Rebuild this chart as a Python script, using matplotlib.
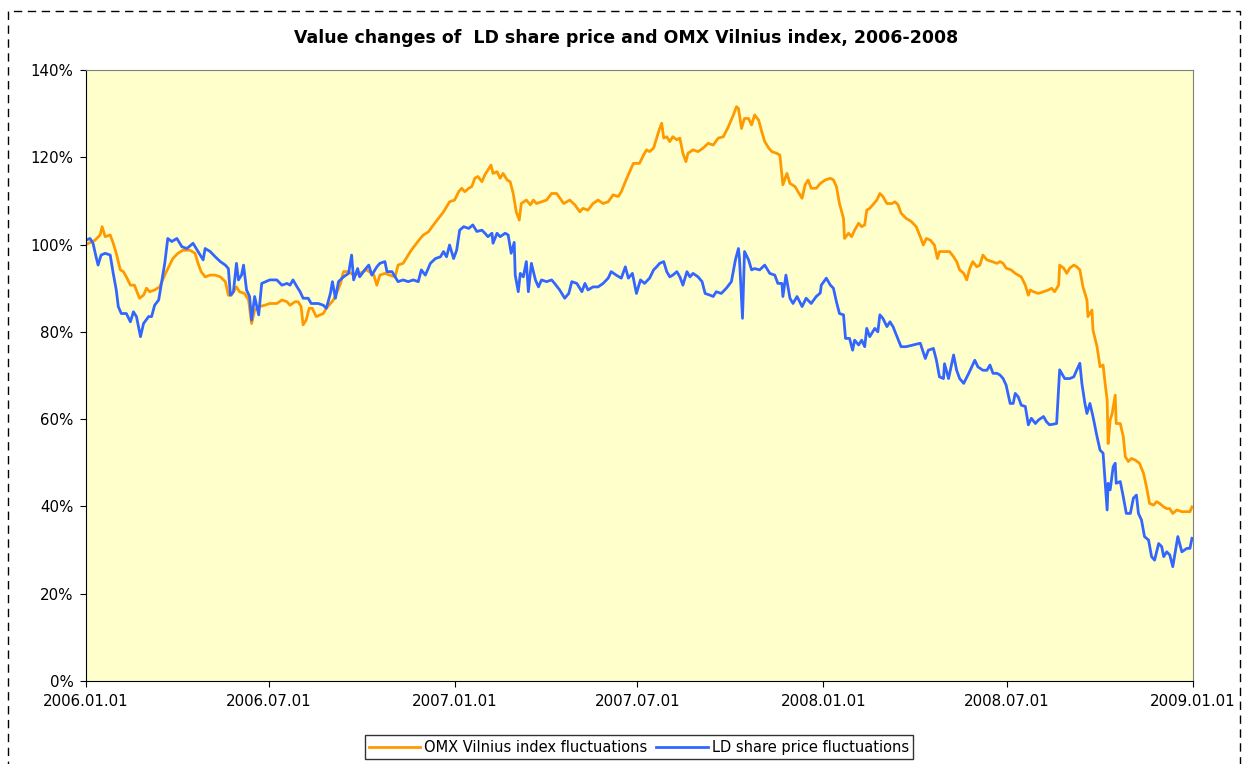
import numpy as np
import matplotlib
matplotlib.use("Agg")
import matplotlib.pyplot as plt
import matplotlib.dates as mdates
from matplotlib.patches import Rectangle

# days counted from 2006-01-01, values in % of the starting level
omx_days = [0, 9, 14, 16, 19, 24, 27, 30, 34, 37, 40, 44, 48, 53, 57, 60, 63, 68, 73, 78,
            82, 86, 91, 96, 103, 108, 111, 114, 118, 123, 128, 133, 138, 141, 144, 149, 152, 157, 161, 164,
            167, 172, 177, 182, 189, 194, 199, 202, 207, 210, 213, 215, 218, 221, 224, 228, 232, 235, 238, 242,
            245, 248, 252, 255, 260, 265, 271, 278, 285, 288, 291, 296, 301, 306, 309, 314, 319, 322, 326, 331,
            334, 339, 344, 349, 354, 360, 365, 369, 372, 375, 379, 382, 385, 388, 392, 395, 398, 401, 403, 407,
            410, 413, 417, 420, 423, 426, 429, 431, 436, 440, 443, 446, 451, 456, 461, 466, 473, 479, 484, 489,
            492, 497, 502, 507, 512, 517, 522, 527, 530, 534, 537, 542, 548, 552, 555, 558, 562, 565, 568, 570,
            572, 575, 578, 581, 585, 588, 591, 594, 596, 601, 606, 611, 616, 621, 626, 631, 636, 641, 644, 646,
            649, 652, 656, 659, 662, 666, 669, 672, 676, 679, 684, 687, 690, 694, 697, 702, 705, 709, 712, 715,
            718, 723, 727, 732, 737, 740, 743, 746, 750, 751, 755, 758, 761, 765, 768, 771, 773, 776, 779, 783,
            786, 789, 793, 798, 801, 804, 807, 812, 817, 822, 826, 829, 832, 836, 840, 843, 845, 850, 855, 859,
            862, 865, 869, 872, 875, 878, 882, 885, 888, 892, 897, 902, 905, 908, 911, 916, 920, 923, 926, 930,
            933, 935, 938, 943, 948, 953, 956, 959, 963, 964, 968, 971, 974, 978, 981, 984, 987, 991, 992, 996,
            997, 1001, 1004, 1007, 1009, 1011, 1012, 1014, 1016, 1019, 1020, 1024, 1027, 1029, 1032, 1035, 1039, 1043, 1047, 1050,
            1053, 1057, 1060, 1063, 1067, 1070, 1073, 1076, 1080, 1085, 1090, 1093, 1095]
omx_values = [100.0, 101.0, 102.2, 104.1, 101.8, 102.2, 100.3, 98.0, 94.2, 93.8, 92.6, 90.7, 90.7, 87.7, 88.4, 90.0, 89.2, 89.6, 90.3, 93.0,
              94.9, 96.8, 98.0, 98.7, 98.7, 98.0, 95.7, 93.8, 92.6, 93.0, 93.0, 92.6, 91.5, 88.4, 88.4, 90.3, 89.2, 88.8, 87.3, 81.9,
              85.0, 85.8, 86.1, 86.5, 86.5, 87.3, 86.9, 86.1, 86.9, 86.9, 85.8, 81.6, 82.7, 85.4, 85.4, 83.5, 83.9, 84.2, 85.4, 86.5,
              87.3, 88.8, 91.1, 93.8, 93.8, 93.0, 93.4, 94.2, 93.0, 90.7, 93.0, 93.4, 93.0, 92.6, 95.3, 95.7, 97.6, 98.7, 99.9, 101.4,
              102.2, 102.9, 104.5, 106.0, 107.5, 109.8, 110.2, 112.1, 112.9, 112.1, 112.9, 113.3, 115.2, 115.6, 114.4, 116.0, 117.1, 118.2, 116.3, 116.7,
              115.2, 116.3, 114.8, 114.4, 111.7, 107.5, 105.6, 109.4, 110.2, 109.1, 110.2, 109.4, 109.8, 110.2, 111.7, 111.7, 109.4, 110.2, 109.1, 107.5,
              108.3, 107.9, 109.4, 110.2, 109.4, 109.8, 111.4, 111.0, 112.1, 114.4, 116.0, 118.6, 118.6, 120.5, 121.7, 121.3, 122.1, 124.4, 126.6, 127.8,
              124.4, 124.7, 123.6, 124.7, 124.0, 124.4, 120.9, 119.0, 120.9, 121.7, 121.3, 122.1, 123.2, 122.8, 124.4, 124.7, 127.0, 129.7, 131.6, 131.2,
              126.6, 128.9, 128.9, 127.4, 129.7, 128.5, 125.9, 123.6, 122.1, 121.3, 120.9, 120.5, 113.7, 116.3, 114.0, 113.3, 112.1, 110.6, 113.7, 114.8,
              112.9, 112.9, 114.0, 114.8, 115.2, 114.8, 113.3, 109.4, 106.0, 101.4, 102.6, 101.8, 103.3, 104.9, 104.1, 104.5, 107.9, 108.3, 109.1, 110.2,
              111.7, 111.0, 109.4, 109.4, 109.8, 109.1, 107.2, 106.0, 105.3, 104.1, 101.8, 99.9, 101.4, 101.0, 99.9, 96.8, 98.4, 98.4, 98.4, 97.2,
              96.1, 94.2, 93.4, 91.9, 94.5, 96.1, 94.9, 95.3, 97.6, 96.5, 96.1, 95.7, 96.1, 95.7, 94.6, 94.2, 93.4, 93.0, 92.6, 90.7,
              88.4, 89.6, 89.2, 88.8, 89.2, 89.6, 90.0, 89.2, 90.7, 95.3, 94.6, 93.4, 94.6, 95.3, 94.9, 94.2, 90.4, 87.3, 83.5, 85.0,
              80.4, 76.6, 72.0, 72.4, 68.2, 64.4, 54.4, 59.8, 61.3, 65.5, 59.0, 59.0, 56.0, 51.4, 50.3, 51.0, 50.6, 49.9, 47.6, 44.5,
              40.7, 40.3, 41.1, 40.7, 39.9, 39.5, 39.5, 38.4, 39.2, 38.8, 38.8, 38.8, 39.9]

ld_days = [0, 4, 7, 10, 12, 15, 19, 24, 27, 30, 32, 35, 40, 44, 47, 50, 54, 57, 62, 65,
           68, 72, 75, 78, 81, 85, 90, 95, 100, 106, 111, 116, 118, 123, 128, 133, 138, 141, 143, 146,
           149, 151, 154, 156, 159, 162, 164, 167, 171, 174, 182, 189, 194, 199, 202, 205, 209, 212, 215, 220,
           223, 230, 235, 238, 242, 244, 247, 250, 255, 260, 263, 265, 269, 271, 276, 280, 283, 288, 291, 296,
           298, 303, 309, 314, 319, 324, 329, 332, 336, 341, 346, 351, 354, 357, 360, 364, 367, 370, 374, 379,
           383, 387, 392, 395, 398, 402, 403, 407, 410, 415, 418, 421, 424, 425, 428, 430, 433, 436, 438, 441,
           445, 448, 451, 456, 461, 464, 469, 474, 478, 481, 486, 491, 494, 497, 502, 507, 512, 517, 520, 525,
           530, 534, 537, 541, 545, 549, 553, 558, 562, 565, 568, 572, 575, 578, 581, 585, 588, 591, 595, 598,
           601, 606, 610, 613, 618, 621, 624, 629, 634, 639, 643, 646, 647, 650, 652, 656, 659, 662, 667, 672,
           677, 682, 685, 689, 690, 693, 697, 700, 704, 709, 713, 718, 723, 727, 728, 733, 737, 740, 743, 746,
           750, 752, 756, 759, 761, 765, 768, 771, 773, 776, 781, 784, 786, 789, 793, 796, 799, 803, 807, 812,
           819, 826, 831, 834, 839, 842, 845, 849, 850, 854, 859, 862, 865, 869, 874, 877, 880, 883, 888, 892,
           895, 898, 902, 905, 908, 911, 915, 918, 920, 923, 926, 930, 933, 936, 940, 943, 948, 951, 954, 961,
           964, 969, 974, 978, 981, 984, 986, 989, 991, 994, 997, 1001, 1004, 1007, 1011, 1012, 1014, 1017, 1019, 1020,
           1024, 1027, 1030, 1034, 1037, 1040, 1042, 1045, 1048, 1052, 1055, 1058, 1062, 1065, 1067, 1070, 1073, 1076, 1078, 1081,
           1085, 1090, 1093, 1095]
ld_values = [101.0, 101.4, 100.3, 97.2, 95.3, 97.6, 98.0, 97.6, 93.4, 89.6, 85.8, 84.2, 84.2, 82.3, 84.6, 83.5, 78.9, 81.9, 83.5, 83.5,
             86.1, 87.3, 91.5, 95.7, 101.4, 100.7, 101.4, 99.5, 99.1, 100.3, 98.4, 96.5, 99.1, 98.4, 97.2, 96.1, 95.3, 94.5, 88.4, 89.2,
             95.7, 91.9, 93.0, 95.3, 89.6, 88.1, 82.7, 88.1, 83.9, 91.1, 91.9, 91.9, 90.7, 91.1, 90.7, 91.9, 90.3, 89.2, 87.7, 87.7,
             86.5, 86.5, 86.1, 85.4, 88.8, 91.5, 87.7, 91.5, 92.6, 93.4, 97.6, 91.9, 94.5, 92.6, 94.2, 95.3, 93.0, 94.9, 95.7, 96.1,
             93.8, 93.8, 91.5, 91.9, 91.5, 91.9, 91.5, 94.2, 93.0, 95.7, 96.8, 97.2, 98.4, 97.2, 99.9, 96.8, 98.7, 103.3, 104.1, 103.7,
             104.5, 103.0, 103.3, 102.6, 101.8, 102.6, 100.3, 102.6, 101.8, 102.6, 102.2, 98.0, 100.5, 93.0, 89.2, 93.4, 92.6, 96.1, 89.2, 95.7,
             91.9, 90.3, 91.9, 91.5, 91.9, 91.1, 89.6, 87.7, 88.8, 91.5, 91.1, 89.2, 91.1, 89.6, 90.3, 90.3, 91.1, 92.3, 93.8, 93.0,
             92.3, 94.9, 92.3, 93.4, 88.8, 91.9, 91.1, 92.3, 94.2, 94.9, 95.7, 96.1, 93.8, 92.6, 93.0, 93.8, 92.6, 90.7, 93.8, 92.6,
             93.4, 92.6, 91.5, 88.8, 88.4, 88.1, 89.2, 88.8, 90.0, 91.5, 96.5, 99.1, 96.8, 83.1, 98.4, 96.5, 94.2, 94.5, 94.2, 95.3,
             93.4, 93.0, 91.1, 91.1, 88.1, 93.0, 87.7, 86.5, 88.1, 85.8, 87.7, 86.5, 88.1, 88.9, 90.7, 92.3, 90.7, 90.0, 86.9, 84.2,
             83.9, 78.5, 78.5, 75.8, 78.1, 77.0, 78.1, 76.6, 80.8, 78.9, 80.8, 80.0, 83.9, 83.1, 81.2, 82.3, 81.2, 78.9, 76.6, 76.6,
             77.0, 77.4, 73.9, 75.8, 76.2, 73.5, 69.7, 69.3, 72.7, 69.3, 74.7, 71.2, 69.3, 68.2, 70.5, 72.0, 73.5, 72.0, 71.2, 71.2,
             72.4, 70.5, 70.5, 70.1, 69.3, 67.8, 63.6, 63.6, 65.9, 65.1, 63.2, 62.9, 58.7, 60.2, 59.0, 59.8, 60.6, 59.4, 58.7, 59.0,
             71.3, 69.3, 69.3, 69.7, 71.3, 72.8, 68.2, 63.6, 61.3, 63.6, 60.6, 56.0, 52.9, 52.2, 39.2, 45.3, 43.8, 49.1, 49.9, 45.3,
             45.7, 42.2, 38.4, 38.4, 41.9, 42.6, 38.4, 36.9, 33.1, 32.3, 28.5, 27.7, 31.5, 30.8, 28.5, 29.6, 28.9, 26.2, 28.9, 33.1,
             29.6, 30.4, 30.4, 32.7]

tick_dates = ['2006-01-01', '2006-07-01', '2007-01-01', '2007-07-01',
              '2008-01-01', '2008-07-01', '2009-01-01']

start = np.datetime64('2006-01-01')
omx_dates = start + np.array(omx_days, dtype='timedelta64[D]')
ld_dates = start + np.array(ld_days, dtype='timedelta64[D]')

fig = plt.figure(figsize=(12.53, 7.64), dpi=100)
ax = fig.add_axes([0.0686, 0.1086, 0.8835, 0.7998])
ax.set_facecolor('#FFFFCC')

ax.plot(omx_dates, omx_values, color='#FF9900', lw=2.0, label='OMX Vilnius index fluctuations')
ax.plot(ld_dates, ld_values, color='#3366FF', lw=2.0, label='LD share price fluctuations')

ax.set_xlim(np.datetime64('2006-01-01'), np.datetime64('2009-01-01'))
ax.set_ylim(0, 140)
ax.set_yticks(range(0, 141, 20))
ax.set_yticklabels([f'{v}%' for v in range(0, 141, 20)])
ax.set_xticks([np.datetime64(d) for d in tick_dates])
ax.xaxis.set_major_formatter(mdates.DateFormatter('%Y.%m.%d'))
ax.tick_params(labelsize=10.8, length=4, direction='out', pad=5)

ax.spines['top'].set_color('#808080')
ax.spines['right'].set_color('#808080')
for s in ['left', 'bottom']:
    ax.spines[s].set_color('black')

fig.text(0.5, 0.950, 'Value changes of  LD share price and OMX Vilnius index, 2006-2008',
         ha='center', va='center', fontsize=12.5, fontweight='bold')

leg = fig.legend(loc='center', bbox_to_anchor=(0.51, 0.022), ncol=2, frameon=True,
                 fancybox=False, fontsize=10.5, handlelength=3.5, handletextpad=0.3,
                 columnspacing=0.6, borderpad=0.3)
leg.get_frame().set_edgecolor('black')
leg.get_frame().set_linewidth(1.0)

fig.patches.append(Rectangle((8 / 1253, -0.05), 1232 / 1253, 0.9856 + 0.05,
                             transform=fig.transFigure, fill=False, edgecolor='black',
                             linestyle=(0, (6, 4)), lw=1.0))

fig.savefig('out.png', dpi=100)
